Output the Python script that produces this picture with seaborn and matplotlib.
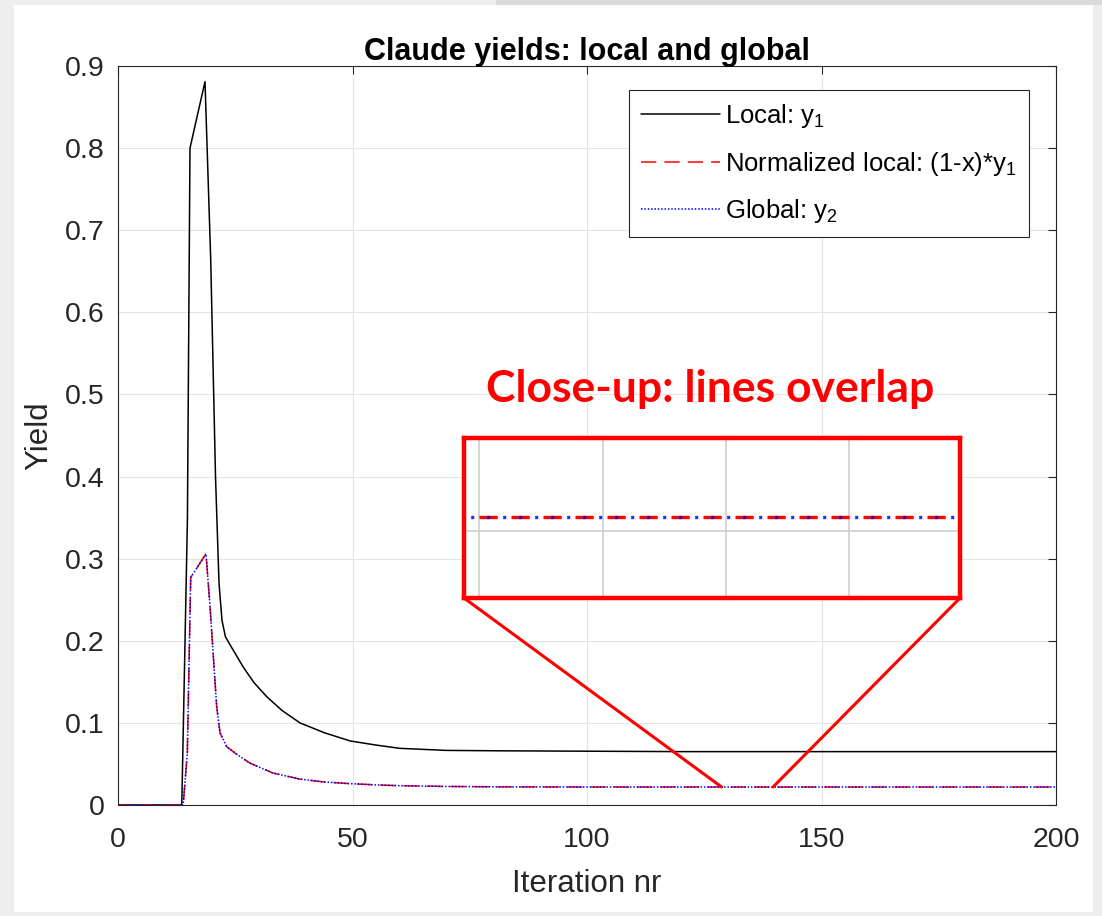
import matplotlib
matplotlib.use("Agg")
import numpy as np
import pandas as pd
import seaborn as sns
import matplotlib.pyplot as plt
from matplotlib.patches import Rectangle, ConnectionPatch

# ---------------- data ----------------
local_x = [0, 13.6, 14.8, 15.35, 18.55, 19.77, 20.79, 21.54, 22.17, 22.9, 23.9,
           26.7, 29.0, 31.7, 35.0, 38.8, 44.0, 49.5, 55.0, 60.1, 70.0, 81.4,
           120, 200]
local_y = [0, 0, 0.347, 0.80, 0.881, 0.664, 0.40, 0.27, 0.225, 0.205, 0.195,
           0.168, 0.149, 0.132, 0.115, 0.100, 0.088, 0.078, 0.073, 0.069,
           0.0665, 0.066, 0.065, 0.065]

norm_x = [0, 13.9, 14.78, 15.5, 18.76, 19.62, 21.04, 21.75, 23.18, 25.5,
          28.14, 33.0, 38.8, 44.0, 49.5, 55.0, 60.1, 70.0, 81.4, 100, 200]
norm_y = [0, 0, 0.063, 0.277, 0.306, 0.242, 0.12, 0.088, 0.071, 0.061,
          0.051, 0.039, 0.0315, 0.028, 0.026, 0.0245, 0.0235, 0.0226, 0.0221,
          0.0219, 0.0219]

# global yield coincides with the normalized local yield
global_x = list(norm_x)
global_y = list(norm_y)

labels = ["Local: y$_1$", "Normalized local: (1-x)*y$_1$", "Global: y$_2$"]
title = "Claude yields: local and global"
xlabel = "Iteration nr"
ylabel = "Yield"
x_ticks = [0, 50, 100, 150, 200]
y_ticks = [0, 0.1, 0.2, 0.3, 0.4, 0.5, 0.6, 0.7, 0.8, 0.9]
y_ticklabels = ["0", "0.1", "0.2", "0.3", "0.4", "0.5", "0.6", "0.7", "0.8", "0.9"]
zoom_window = [128.7, 139.66]        # iterations shown in the close-up
annotation = "Close-up: lines overlap"

# ---------------- style ----------------
sns.set_theme(style="white")
plt.rcParams["font.family"] = ["Liberation Sans", "DejaVu Sans"]
plt.rcParams["mathtext.fontset"] = "custom"
plt.rcParams["mathtext.rm"] = "Liberation Sans"
plt.rcParams["mathtext.it"] = "Liberation Sans"
plt.rcParams["mathtext.bf"] = "Liberation Sans:bold"

W, H = 1102, 916
fig = plt.figure(figsize=(W / 100, H / 100), dpi=100, facecolor="#eeeeee")
# slide-like background: darker band along the top, white panel
fig.patches.append(Rectangle((0.45, 1 - 5 / H), 0.55, 5 / H,
                             transform=fig.transFigure, facecolor="#dadada",
                             edgecolor="none", zorder=-11))
fig.patches.append(Rectangle((14 / W, 4 / H), 1079 / W, 907 / H,
                             transform=fig.transFigure, facecolor="white",
                             edgecolor="none", zorder=-10))

ax = fig.add_axes([118 / W, 111 / H, 938 / W, 739 / H])
ax.set_facecolor("white")

dark = "#262626"
lw = 1.1
sns.lineplot(x=local_x, y=local_y, ax=ax, color="black", lw=lw, label=labels[0])
sns.lineplot(x=norm_x, y=norm_y, ax=ax, color="#ff0000", lw=lw,
             linestyle=(0, (10, 5.3)), label=labels[1])
sns.lineplot(x=global_x, y=global_y, ax=ax, color="#0000ff", lw=lw,
             linestyle=(0, (1, 1.2)), label=labels[2])

ax.set_xlim(0, 200)
ax.set_ylim(0, 0.9)
ax.set_xticks(x_ticks)
ax.set_xticklabels([str(t) for t in x_ticks])
ax.set_yticks(y_ticks)
ax.set_yticklabels(y_ticklabels)
ax.grid(True, color="#e4e4e4", lw=0.8)
ax.set_axisbelow(True)
for s in ax.spines.values():
    s.set_visible(True)
    s.set_color(dark)
    s.set_linewidth(0.8)
ax.tick_params(direction="in", length=6, width=0.8, top=True, right=True,
               labelsize=20.5, colors=dark)
ax.tick_params(axis="x", pad=16)
ax.tick_params(axis="y", pad=9.5)
ax.set_xlabel(xlabel, fontsize=22.5, color=dark, labelpad=11)
ax.set_ylabel(ylabel, fontsize=22.5, color=dark, labelpad=8)
ax.set_title(title, fontsize=22, fontweight="bold", color="black", pad=4)

leg = ax.legend(loc="upper right", bbox_to_anchor=(0.9712, 0.9675),
                borderaxespad=0, fontsize=18.5, frameon=True, fancybox=False,
                edgecolor=dark, framealpha=1, facecolor="white",
                handlelength=3.05, handletextpad=0.2, labelspacing=0.75,
                borderpad=0.48)
leg.get_frame().set_linewidth(0.8)
for t in leg.get_texts():
    t.set_color("black")

ax.text(0.631, 0.563, annotation, transform=ax.transAxes, color="#ff0000",
        fontsize=32, fontweight="bold", family=["Lato", "DejaVu Sans"],
        ha="center", va="center")

# ---------------- close-up inset ----------------
ins = fig.add_axes([464 / W, 318 / H, 496 / W, 160 / H])
ins.set_facecolor("white")
zx0, zx1 = zoom_window
v = float(np.interp(np.mean(zoom_window), norm_x, norm_y))
S = 0.001
sns.lineplot(x=norm_x, y=norm_y, ax=ins, color="#ff0000", lw=2.4,
             linestyle=(0, (5.45, 4.15)), legend=False)
sns.lineplot(x=global_x, y=global_y, ax=ins, color="#0000ff", lw=2.4,
             linestyle=(2.5, (0.9, 3.9)), legend=False, alpha=0.85)
ins.set_xlim(zx0, zx1)
ins.set_ylim(v - 0.506 * S, v + 0.494 * S)
ins.set_xticks(zx0 + (zx1 - zx0) * np.array([0.030, 0.280, 0.528, 0.776]))
ins.set_yticks([v - 0.087 * S])
ins.grid(True, color="#cfcfcf", lw=1.2)
ins.set_axisbelow(True)
ins.tick_params(left=False, bottom=False, labelleft=False, labelbottom=False)
ins.set_xlabel("")
ins.set_ylabel("")
for s in ins.spines.values():
    s.set_visible(True)
    s.set_color("#ff0000")
    s.set_linewidth(3.2)

for fx, xd in [(0, zx0), (1, zx1)]:
    yd = float(np.interp(xd, norm_x, norm_y))
    con = ConnectionPatch(xyA=(fx, 0), coordsA=ins.transAxes,
                          xyB=(xd, yd), coordsB=ax.transData,
                          color="#ff0000", lw=2.2)
    fig.add_artist(con)

fig.savefig("out.png", dpi=100, facecolor=fig.get_facecolor())
